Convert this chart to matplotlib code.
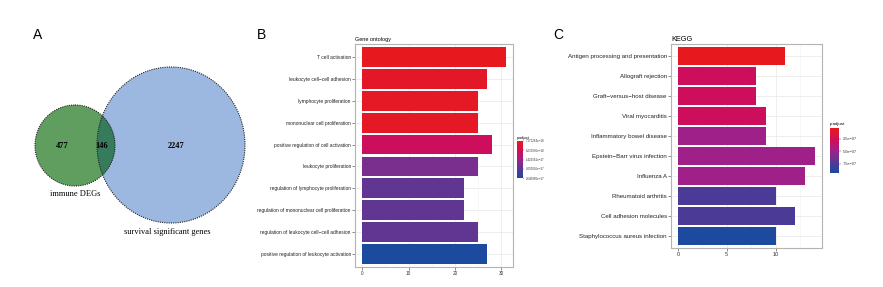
import numpy as np
import matplotlib
matplotlib.use("Agg")
import matplotlib.pyplot as plt
from matplotlib.patches import Ellipse
from matplotlib.colors import LinearSegmentedColormap, Normalize
from matplotlib.cm import ScalarMappable

plt.rcParams['font.family'] = ['Liberation Sans', 'DejaVu Sans']

# ---- data ----
venn_counts = [477, 146, 2247]
venn_names = ['immune DEGs', 'survival significant genes']

go_terms = ['T cell activation', 'leukocyte cell\u2212cell adhesion', 'lymphocyte proliferation',
            'mononuclear cell proliferation', 'positive regulation of cell activation',
            'leukocyte proliferation', 'regulation of lymphocyte proliferation',
            'regulation of mononuclear cell proliferation',
            'regulation of leukocyte cell\u2212cell adhesion',
            'positive regulation of leukocyte activation']
go_counts = [31, 27, 25, 25, 28, 25, 22, 22, 25, 27]
go_padj = [7.17e-18, 8.1e-18, 7.9e-18, 7.9e-18, 1.29e-17, 1.97e-17, 2.12e-17, 2.12e-17, 2.12e-17, 2.64e-17]
go_cb_labels = ['7.171264e\u221218', '6.230936e\u221218', '1.426561e\u221217', '2.055026e\u221217', '2.640960e\u221217']

kegg_terms = ['Antigen processing and presentation', 'Allograft rejection', 'Graft\u2212versus\u2212host disease',
              'Viral myocarditis', 'Inflammatory bowel disease', 'Epstein\u2212Barr virus infection',
              'Influenza A', 'Rheumatoid arthritis', 'Cell adhesion molecules',
              'Staphylococcus aureus infection']
kegg_counts = [11, 8, 8, 9, 9, 14, 13, 10, 12, 10]
kegg_padj = [0.4e-7, 3.07e-7, 3.07e-7, 3.07e-7, 4.85e-7, 4.85e-7, 4.85e-7, 7.52e-7, 7.52e-7, 9.3e-7]
kegg_cb_ticks = [2.5e-7, 5.0e-7, 7.5e-7]
kegg_cb_labels = ['2.5e\u221207', '5.0e\u221207', '7.5e\u221207']

cmap = LinearSegmentedColormap.from_list('padj', [
    (0.0, '#E8191E'), (0.3, '#CC0E5C'), (0.5, '#A0208A'),
    (0.65, '#7A2E8E'), (0.8, '#4B3B96'), (1.0, '#1C4A9F')])

W, H = 883, 287
fig = plt.figure(figsize=(W / 100, H / 100), dpi=100)


def fx(px):
    return px / W


def fy(py):
    return 1 - py / H


# ---- panel A: venn ----
axv = fig.add_axes([0, 0, fx(260), 1])
axv.set_xlim(0, 260)
axv.set_ylim(H, 0)
axv.axis('off')
blue = Ellipse((171, 145), 148, 156, facecolor='#9DB8E0', edgecolor='none', zorder=1)
green = Ellipse((75, 145.5), 80, 81, facecolor='#5F9E5F', edgecolor='none', zorder=2)
axv.add_patch(blue)
axv.add_patch(green)
overlap = Ellipse((75, 145.5), 80, 81, facecolor='#367C5C', edgecolor='none', zorder=3)
axv.add_patch(overlap)
overlap.set_clip_path(blue)
for e in [Ellipse((171, 145), 148, 156), Ellipse((75, 145.5), 80, 81)]:
    e.set_facecolor('none')
    e.set_edgecolor('#222222')
    e.set_linewidth(0.8)
    e.set_linestyle((0, (1, 1)))
    e.set_zorder(4)
    axv.add_patch(e)
serif = ['Liberation Serif', 'DejaVu Serif']
for x, c in zip([62, 102, 176], venn_counts):
    axv.text(x, 146, str(c), ha='center', va='center', fontsize=6, fontweight='bold',
             family=serif, zorder=5)
axv.text(75, 194, venn_names[0], ha='center', va='center', fontsize=6, family=serif)
axv.text(167, 232, venn_names[1], ha='center', va='center', fontsize=6, family=serif)

fig.text(fx(38), fy(35), 'A', fontsize=10, ha='center', va='center')
fig.text(fx(262), fy(35), 'B', fontsize=10, ha='center', va='center')
fig.text(fx(558), fy(35), 'C', fontsize=10, ha='center', va='center')


def bar_panel(rect, terms, counts, padj, norm, major, minor, ysize, xsize, title, tsize):
    ax = fig.add_axes(rect)
    n = len(terms)
    y = np.arange(n)
    ax.set_axisbelow(True)
    ax.grid(True, which='major', color='#EBEBEB', linewidth=0.6)
    ax.grid(True, which='minor', axis='x', color='#F4F4F4', linewidth=0.4)
    ax.barh(y, counts, height=0.9, color=cmap(norm(np.array(padj))))
    ax.set_yticks(y)
    ax.set_yticklabels(terms, fontsize=ysize, color='#222222')
    ax.set_xticks(major)
    ax.set_xticks(minor, minor=True)
    ax.tick_params(axis='x', which='minor', length=0)
    ax.tick_params(axis='both', which='major', length=2, width=0.4, color='#333333', pad=1)
    ax.tick_params(axis='x', labelsize=xsize, labelcolor='#333333')
    m = max(counts)
    ax.set_xlim(-0.05 * m, 1.05 * m)
    ax.set_ylim(n - 0.4, -0.6)
    for s in ax.spines.values():
        s.set_color('#B3B3B3')
        s.set_linewidth(0.8)
    ax.set_title(title, loc='left', fontsize=tsize, pad=2)
    return ax


go_norm = Normalize(min(go_padj), max(go_padj))
bar_panel([fx(355), fy(267), fx(513 - 355), fy(44) - fy(267)], go_terms, go_counts, go_padj,
          go_norm, [0, 10, 20, 30], [5, 15, 25], 3.5, 3.4, 'Gene ontology', 4.0)

kegg_norm = Normalize(min(kegg_padj), max(kegg_padj))
bar_panel([fx(671), fy(247.5), fx(821.7 - 671), fy(44) - fy(247.5)], kegg_terms, kegg_counts,
          kegg_padj, kegg_norm, [0, 5, 10], [2.5, 7.5, 12.5], 4.4, 4.0, 'KEGG', 5.3)

# ---- colorbars ----
cax_b = fig.add_axes([fx(517), fy(178), fx(6), fy(141) - fy(178)])
cb = fig.colorbar(ScalarMappable(norm=go_norm, cmap=cmap), cax=cax_b)
cb.outline.set_visible(False)
cax_b.invert_yaxis()
cb.set_ticks(np.linspace(go_norm.vmin, go_norm.vmax, 5))
cb.set_ticklabels(go_cb_labels)
cax_b.tick_params(labelsize=2.1, length=1, width=0.3, pad=0.8, colors='#333333')
cax_b.set_title('p.adjust', fontsize=2.6, loc='left', pad=1.5)

cax_c = fig.add_axes([fx(830), fy(172.7), fx(9), fy(128) - fy(172.7)])
cb2 = fig.colorbar(ScalarMappable(norm=kegg_norm, cmap=cmap), cax=cax_c)
cb2.outline.set_visible(False)
cax_c.invert_yaxis()
cb2.set_ticks(kegg_cb_ticks)
cb2.set_ticklabels(kegg_cb_labels)
cax_c.tick_params(labelsize=2.8, length=1.5, width=0.3, pad=1, colors='#333333')
cax_c.set_title('p.adjust', fontsize=3.2, loc='left', pad=2)

fig.savefig('out.png', dpi=100)
